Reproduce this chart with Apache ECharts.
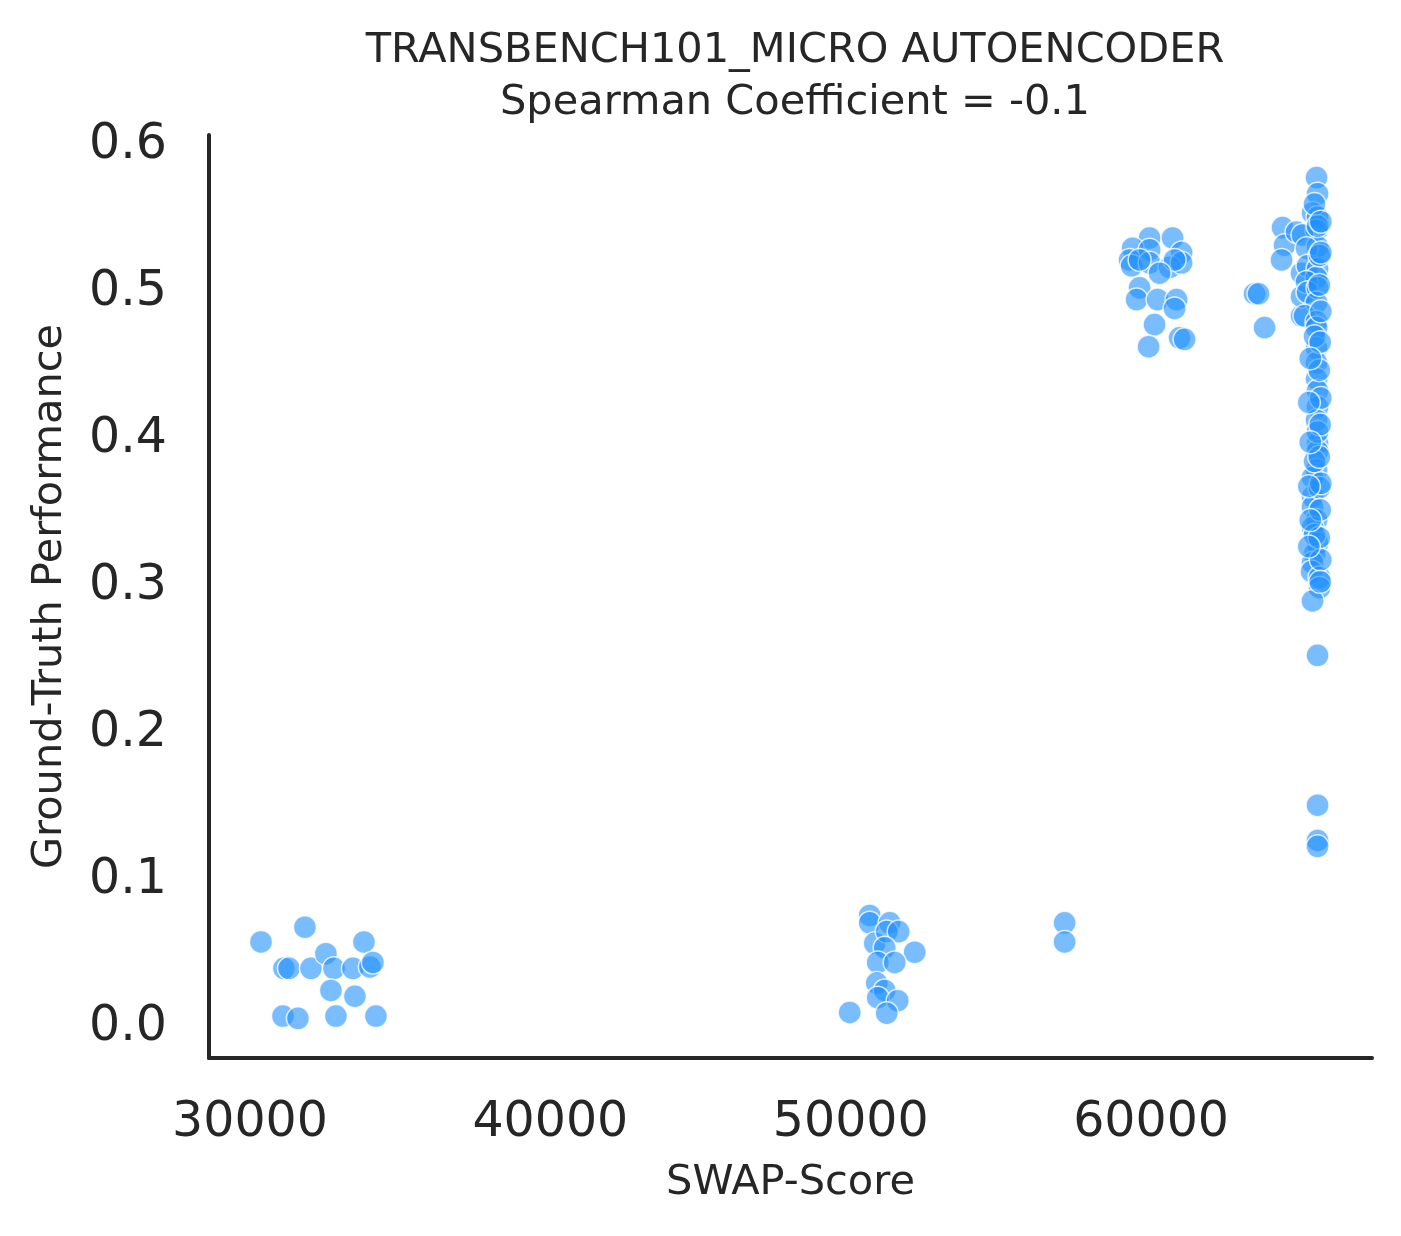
<!DOCTYPE html>
<html>
<head>
<meta charset="utf-8">
<script src="https://cdn.jsdelivr.net/npm/echarts@6/dist/echarts.min.js"></script>
<style>
  html, body { margin: 0; padding: 0; background: #fff; }
  #chart { width: 1401px; height: 1236px; }
</style>
</head>
<body>
<div id="chart"></div>
<script>
// SWAP-Score / ground-truth pairs, grouped by cluster
var lowSwap = [30366, 31830, 31130, 31300, 32030, 32529, 32795, 32695, 33428, 33794, 33993, 34093, 33494, 31098, 31597, 32862, 34193]
var lowPerf = [0.058, 0.068, 0.040, 0.040, 0.040, 0.050, 0.040, 0.025, 0.040, 0.058, 0.041, 0.044, 0.021, 0.0075, 0.006, 0.0075, 0.0075]

var midSwap = [50632, 50632, 51298, 50799, 51198, 51597, 51131, 52130, 50899, 51464, 50865, 51131, 50899, 51564, 51198, 49967, 57121, 57121]
var midPerf = [0.076, 0.071, 0.071, 0.057, 0.065, 0.065, 0.054, 0.051, 0.044, 0.044, 0.030, 0.025, 0.020, 0.018, 0.0095, 0.010, 0.071, 0.058]

var highSwap = [59950, 60715, 59384, 59285, 59950, 61015, 59351, 59950, 60616, 61015, 60782, 59617, 59517, 60216, 60849, 60782, 60116, 59917, 60948, 61115, 60283, 59617,
  63444, 63577, 63777, 64376, 64443, 64343, 64842, 65008, 65008, 65008]
var highPerf = [0.537, 0.537, 0.530, 0.522, 0.529, 0.527, 0.518, 0.520, 0.517, 0.520, 0.522, 0.503, 0.495, 0.495, 0.495, 0.489, 0.478, 0.463, 0.469, 0.468, 0.513, 0.522,
  0.499, 0.499, 0.476, 0.544, 0.532, 0.522, 0.541, 0.484, 0.497, 0.513]

var topSwap = [65508, 65541, 65374, 65541, 65508, 65041, 65541, 65175, 65208, 65541, 65508, 65175, 65208, 65541, 65508, 65108, 65508, 65508, 65508, 65508, 65508,
  65541, 65541, 65508, 65541, 65541, 65508, 65374, 65374, 65374, 65508, 65374, 65541, 65441, 65374, 65341, 65607, 65607, 65374,
  65541, 65541, 65541, 65541, 65441, 65541, 65607, 65441, 65541, 65441, 65607, 65441,
  65650, 65650, 65600, 65650, 65630, 65600, 65650, 65630, 65600, 65650, 65630, 65600, 65650, 65630, 65300, 65250, 65300, 65250, 65300, 65250]
var topPerf = [0.578, 0.567, 0.554, 0.551, 0.542, 0.539, 0.531, 0.530, 0.518, 0.516, 0.510, 0.507, 0.500, 0.503, 0.493, 0.484, 0.480, 0.476, 0.462, 0.452, 0.441,
  0.433, 0.422, 0.413, 0.397, 0.392, 0.379, 0.374, 0.361, 0.354, 0.345, 0.340, 0.329, 0.322, 0.316, 0.310, 0.306, 0.299, 0.290,
  0.253, 0.151, 0.127, 0.123, 0.560, 0.545, 0.525, 0.470, 0.405, 0.385, 0.367, 0.335,
  0.548, 0.527, 0.505, 0.487, 0.466, 0.447, 0.428, 0.410, 0.388, 0.370, 0.352, 0.333, 0.318, 0.303, 0.455, 0.425, 0.398, 0.368, 0.345, 0.327]

var xTicks = [30000, 40000, 50000, 60000]
var yTicks = [0.0, 0.1, 0.2, 0.3, 0.4, 0.5, 0.6]

function pairs(xs, ys) {
  var out = []
  for (var i = 0; i < xs.length; i++) out.push([xs[i], ys[i]])
  return out
}
var points = [].concat(pairs(lowSwap, lowPerf), pairs(midSwap, midPerf), pairs(highSwap, highPerf), pairs(topSwap, topPerf))

var textColor = '#262626'
var font = 'DejaVu Sans'
var myChart = echarts.init(document.getElementById('chart'), null, { renderer: 'canvas' })

var option = {
  backgroundColor: '#ffffff',
  animation: false,
  title: {
    text: 'TRANSBENCH101_MICRO AUTOENCODER\nSpearman Coefficient = -0.1',
    left: 790,
    top: 20,
    textAlign: 'center',
    textStyle: { fontFamily: font, fontSize: 41.5, fontWeight: 'normal', color: textColor, lineHeight: 52 }
  },
  grid: { left: 209, right: 29, top: 135, bottom: 178, outerBoundsMode: 'none' },
  xAxis: {
    type: 'value',
    min: 28636,
    max: 67354,
    name: 'SWAP-Score',
    nameLocation: 'middle',
    nameGap: 104,
    nameTextStyle: { fontFamily: font, fontSize: 41.5, color: textColor },
    splitLine: { show: false },
    axisTick: { show: false },
    axisLine: { show: true, onZero: false, lineStyle: { color: textColor, width: 4 } },
    axisLabel: {
      customValues: xTicks, fontFamily: font, fontSize: 49, color: textColor, margin: 41,
      formatter: function (v) { return String(v) }
    }
  },
  yAxis: {
    type: 'value',
    min: -0.021,
    max: 0.607,
    name: 'Ground-Truth Performance',
    nameLocation: 'middle',
    nameGap: 138,
    nameTextStyle: { fontFamily: font, fontSize: 41.5, color: textColor },
    splitLine: { show: false },
    axisTick: { show: false },
    axisLine: { show: true, onZero: false, lineStyle: { color: textColor, width: 4 } },
    axisLabel: {
      customValues: yTicks,
      fontFamily: font, fontSize: 49, color: textColor, margin: 42,
      formatter: function (v) { return v.toFixed(1) }
    }
  },
  series: [
    {
      type: 'scatter',
      data: points,
      symbolSize: 23,
      itemStyle: { color: 'rgba(30,144,255,0.74)', borderColor: '#ffffff', borderWidth: 1.5 }
    }
  ]
}
myChart.setOption(option)
</script>
</body>
</html>
